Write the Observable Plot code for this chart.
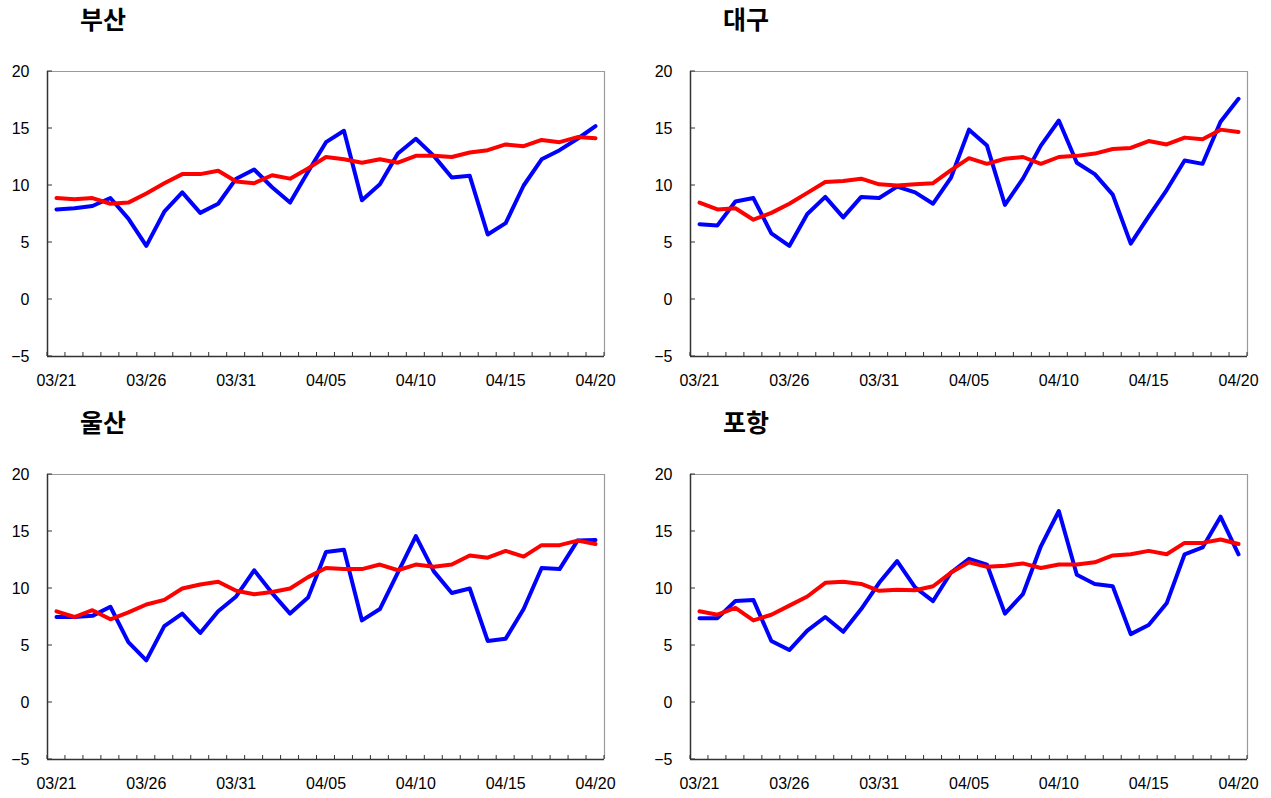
<!DOCTYPE html>
<html>
<head>
<meta charset="utf-8">
<script src="https://cdn.jsdelivr.net/npm/d3@7"></script>
<script src="https://cdn.jsdelivr.net/npm/@observablehq/plot@0.6"></script>
<style>
  html, body { margin: 0; padding: 0; background: #fff; }
  #root { position: relative; width: 1271px; height: 798px; overflow: hidden; background: #fff; }
  .panel { position: absolute; }
  .title { position: absolute; font-family: "Noto Sans CJK KR", sans-serif; font-weight: bold; font-size: 25px; line-height: 25px; color: #000; white-space: nowrap; }
</style>
</head>
<body>
<div id="root"></div>
<script>
const dates = ["03/21","03/22","03/23","03/24","03/25","03/26","03/27","03/28","03/29","03/30","03/31",
  "04/01","04/02","04/03","04/04","04/05","04/06","04/07","04/08","04/09","04/10",
  "04/11","04/12","04/13","04/14","04/15","04/16","04/17","04/18","04/19","04/20"];

const titles = ["부산", "대구", "울산", "포항"];

const busanBlue = [7.9,8.0,8.2,8.9,7.1,4.7,7.7,9.4,7.6,8.4,10.6,11.4,9.85,8.5,11.2,13.8,14.8,8.7,10.1,12.8,14.1,12.6,10.7,10.85,5.7,6.7,10.0,12.3,13.1,14.1,15.2];
const busanRed  = [8.9,8.8,8.9,8.4,8.5,9.3,10.2,11.0,11.0,11.3,10.35,10.2,10.9,10.6,11.5,12.5,12.3,12.0,12.3,12.0,12.6,12.6,12.5,12.9,13.1,13.6,13.45,14.0,13.8,14.25,14.15];

const daeguBlue = [6.6,6.5,8.6,8.9,5.8,4.7,7.5,9.0,7.2,9.0,8.9,9.9,9.4,8.4,10.7,14.9,13.5,8.3,10.6,13.5,15.7,12.0,11.0,9.2,4.9,7.3,9.6,12.2,11.9,15.6,17.6];
const daeguRed  = [8.5,7.9,8.0,7.0,7.6,8.4,9.35,10.3,10.4,10.6,10.1,10.0,10.1,10.2,11.35,12.4,11.9,12.35,12.5,11.9,12.5,12.6,12.8,13.2,13.3,13.9,13.6,14.2,14.05,14.9,14.7];

const ulsanBlue = [7.5,7.5,7.6,8.4,5.3,3.7,6.7,7.8,6.1,8.0,9.3,11.6,9.6,7.8,9.2,13.2,13.4,7.2,8.2,11.4,14.6,11.5,9.6,10.0,5.4,5.6,8.2,11.8,11.7,14.2,14.25];
const ulsanRed  = [8.0,7.5,8.1,7.3,7.9,8.6,9.0,10.0,10.35,10.6,9.8,9.5,9.7,10.0,11.0,11.8,11.7,11.7,12.1,11.6,12.1,11.9,12.1,12.9,12.7,13.3,12.8,13.8,13.8,14.2,13.9];

const pohangBlue = [7.4,7.4,8.9,9.0,5.4,4.6,6.3,7.5,6.2,8.2,10.5,12.4,10.1,8.9,11.4,12.6,12.1,7.8,9.5,13.7,16.8,11.2,10.4,10.2,6.0,6.8,8.7,13.0,13.6,16.3,13.0];
const pohangRed  = [8.0,7.7,8.3,7.2,7.7,8.5,9.3,10.5,10.6,10.4,9.8,9.9,9.85,10.2,11.4,12.3,11.9,12.0,12.2,11.8,12.1,12.1,12.3,12.9,13.0,13.3,13.0,14.0,14.0,14.3,13.9];

const yTicks = [-5, 0, 5, 10, 15, 20];
const xLabelDays = ["03/21","03/26","03/31","04/05","04/10","04/15","04/20"];

const fontFamily = "'Liberation Sans', Arial, sans-serif";

function panel(blue, red) {
  const rows = dates.map((d, i) => ({i, date: d, blue: blue[i], red: red[i]}));
  const labelIdx = xLabelDays.map(d => dates.indexOf(d));
  const boundaries = d3.range(dates.length + 1).map(k => k - 0.5);
  const yMin = yTicks[0], yMax = yTicks[yTicks.length - 1];
  // inward tick marks drawn through the plot's own scales
  const innerTicks = (index, scales) => {
    const g = d3.create("svg:g").attr("stroke", "#333").attr("stroke-width", 1);
    const y0 = scales.y(yMin);
    const x0 = scales.x(boundaries[0]);
    for (const b of boundaries) {
      const xb = scales.x(b);
      g.append("line").attr("x1", xb).attr("x2", xb).attr("y1", y0).attr("y2", y0 - 4);
    }
    for (const t of yTicks) {
      const yt = scales.y(t);
      g.append("line").attr("x1", x0).attr("x2", x0 + 5).attr("y1", yt).attr("y2", yt);
    }
    return g.node();
  };
  return Plot.plot({
    width: 620, height: 331,
    marginLeft: 47, marginRight: 16, marginTop: 11, marginBottom: 35,
    style: {fontFamily, fontSize: "16px", color: "#000", background: "transparent", overflow: "visible"},
    x: {domain: [-0.5, dates.length - 0.5], label: null},
    y: {domain: [yMin, yMax], label: null},
    marks: [
      Plot.axisY({ticks: yTicks, tickSize: 0, tickPadding: 18, fontSize: 16, label: null}),
      Plot.axisX({ticks: labelIdx, tickSize: 0, tickPadding: 18, fontSize: 16, label: null, tickFormat: i => dates[i]}),
      Plot.ruleY([yMax], {stroke: "#9a9a9a", strokeWidth: 1.2}),
      Plot.ruleX([dates.length - 0.5], {stroke: "#9a9a9a", strokeWidth: 1.2}),
      Plot.ruleX([-0.5], {stroke: "#333", strokeWidth: 1.5}),
      Plot.ruleY([yMin], {stroke: "#333", strokeWidth: 1.5}),
      innerTicks,
      Plot.lineY(rows, {x: "i", y: "blue", stroke: "#0000ff", strokeWidth: 4}),
      Plot.lineY(rows, {x: "i", y: "red", stroke: "#ff0000", strokeWidth: 4})
    ]
  });
}

const series = [[busanBlue, busanRed], [daeguBlue, daeguRed], [ulsanBlue, ulsanRed], [pohangBlue, pohangRed]];
const pos = [[0, 60], [643, 60], [0, 463], [643, 463]];
const root = document.getElementById("root");
series.forEach(([b, r], k) => {
  const div = document.createElement("div");
  div.className = "panel";
  div.style.left = pos[k][0] + "px";
  div.style.top = pos[k][1] + "px";
  div.appendChild(panel(b, r));
  root.appendChild(div);
  const t = document.createElement("div");
  t.className = "title";
  t.textContent = titles[k];
  t.style.left = (pos[k][0] + 80) + "px";
  t.style.top = (pos[k][1] - 54) + "px";
  root.appendChild(t);
});
</script>
</body>
</html>
